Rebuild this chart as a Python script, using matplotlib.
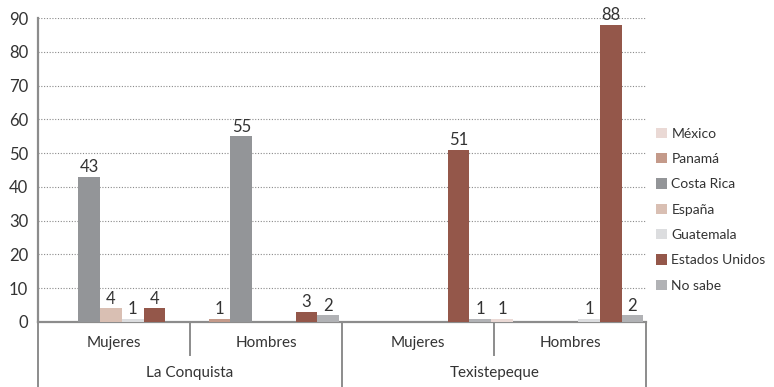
import numpy as np
import matplotlib.pyplot as plt
import matplotlib.transforms as mtransforms

plt.rcParams['font.family'] = ['Lato', 'DejaVu Sans']

# groups along the x axis: (sexo, municipio)
sexos = ['Mujeres', 'Hombres', 'Mujeres', 'Hombres']
municipios = ['La Conquista', 'Texistepeque']

paises = ['México', 'Panamá', 'Costa Rica', 'España', 'Guatemala', 'Estados Unidos', 'No sabe']
colores = ['#ead9d5', '#c49a8a', '#939598', '#d9bfb3', '#dcdddf', '#94574a', '#b1b2b5']

# values per country, one per group (None = no bar)
mexico     = [None, None, None, 1]
panama     = [None, 1, None, None]
costa_rica = [43, 55, None, None]
espana     = [4, None, None, None]
guatemala  = [1, None, None, 1]
eeuu       = [4, 3, 51, 88]
no_sabe    = [None, 2, 1, 2]
series = [mexico, panama, costa_rica, espana, guatemala, eeuu, no_sabe]

txt = '#333333'
linea = '#8c8c8c'
fs = 11

fig = plt.figure(figsize=(7.74, 3.87), dpi=100)
ax = fig.add_axes([0.049, 0.168, 0.786, 0.785])

x = np.arange(len(sexos))
w = 1.0 / 7
for i, (nombre, vals, c) in enumerate(zip(paises, series, colores)):
    pos = x + (i - 3) * w - 0.02
    h = [v if v is not None else 0 for v in vals]
    bars = ax.bar(pos, h, width=w, color=c, label=nombre, zorder=3)
    for b, v in zip(bars, vals):
        if v is not None:
            ax.text(b.get_x() + b.get_width() / 2, v + 0.5, str(v),
                    ha='center', va='bottom', fontsize=12, color=txt)

ax.set_xlim(-0.5, 3.5)
ax.set_ylim(0, 90)
ax.set_yticks(range(0, 91, 10))
ax.yaxis.grid(True, linestyle=(0, (1, 1.5)), color='#8a8a8a', linewidth=0.8)
ax.set_axisbelow(True)
ax.tick_params(axis='y', length=0, labelsize=12, colors=txt, pad=7)
ax.set_xticks([])
for s in ['top', 'right']:
    ax.spines[s].set_visible(False)
ax.spines['left'].set_color(linea)
ax.spines['left'].set_linewidth(1.6)
ax.spines['bottom'].set_color(linea)
ax.spines['bottom'].set_linewidth(1.6)

# two-level category axis drawn below the plot
tr = mtransforms.blended_transform_factory(ax.transData, ax.transAxes)
for xv in [-0.5, 1.5, 3.5]:
    ax.plot([xv, xv], [0, -0.215], transform=tr, color=linea, lw=1.4, clip_on=False)
for xv in [0.5, 2.5]:
    ax.plot([xv, xv], [0, -0.11], transform=tr, color=linea, lw=1.4, clip_on=False)
for xi, s in zip(x, sexos):
    ax.text(xi, -0.07, s, transform=tr, ha='center', va='center', fontsize=fs, color=txt)
for xi, m in zip([0.5, 2.5], municipios):
    ax.text(xi, -0.168, m, transform=tr, ha='center', va='center', fontsize=fs, color=txt)

ax.legend(loc='center left', bbox_to_anchor=(1.016, 0.37), frameon=False,
          borderpad=0, borderaxespad=0,
          fontsize=10, handlelength=0.8, handleheight=0.8, handletextpad=0.3,
          labelspacing=0.95, labelcolor=txt)

fig.savefig('out.png', dpi=100)
